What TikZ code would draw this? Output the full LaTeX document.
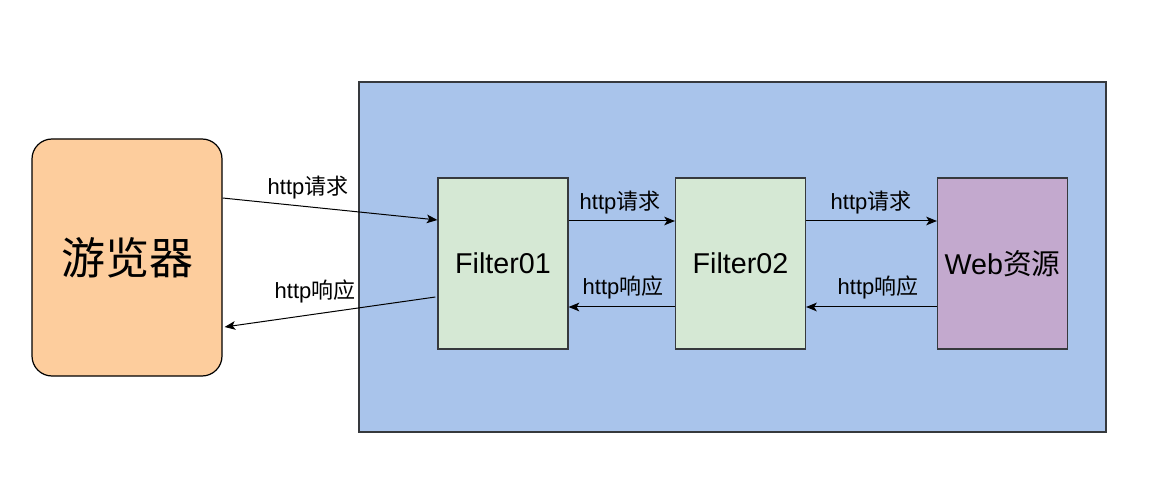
\documentclass[tikz,border=0pt]{standalone}
\usepackage{fontspec}
\setmainfont{Liberation Sans}
\newfontfamily\cjk{Noto Sans CJK SC}
\usetikzlibrary{arrows.meta}

\definecolor{browserfill}{HTML}{FDCD9D}
\definecolor{serverfill}{HTML}{A9C4EB}
\definecolor{filterfill}{HTML}{D5E8D4}
\definecolor{webfill}{HTML}{C3A9CE}
\definecolor{boxline}{HTML}{36393D}

\tikzset{
  box/.style={draw=boxline, line width=0.9pt, inner sep=0pt,
    minimum width=97.5pt, minimum height=128.25pt,
    font=\fontsize{21.5}{24}\selectfont},
  flow/.style={draw=black, line width=0.75pt,
    -{Stealth[length=8pt, width=6.5pt, inset=2pt]}},
  lbl/.style={font=\fontsize{16.5}{19}\selectfont, inner sep=0pt}
}

\begin{document}
\begin{tikzpicture}[x=0.75pt, y=-0.75pt]
    \useasboundingbox (0,0) rectangle (1171,495);
    % container and boxes
    \node[draw=boxline, line width=0.9pt, fill=serverfill,
      minimum width=560.25pt, minimum height=262.5pt] (server) at (732.5,257) {};
    \node[draw=black, line width=0.9pt, fill=browserfill, rounded corners=15pt,
      minimum width=142.5pt, minimum height=177.75pt,
      font=\fontsize{33}{36}\selectfont] (browser) at (127,257.5) {\cjk 游览器};
    \node[box, fill=filterfill] (f1) at (503,263.5) {Filter01};
    \node[box, fill=filterfill] (f2) at (740.5,263.5) {Filter02};
    \node[box, fill=webfill] (web) at (1002.5,263.5) {Web{\cjk 资源}};
    % requests
    \draw[flow] (browser.east |- 0,198) -- (f1.west |- 0,220);
    \draw[flow] (f1.east |- 0,221) -- (f2.west |- 0,221);
    \draw[flow] (f2.east |- 0,221) -- (web.west |- 0,221);
    % responses
    \draw[flow] (web.west |- 0,307) -- (f2.east |- 0,307);
    \draw[flow] (f2.west |- 0,307) -- (f1.east |- 0,307);
    \draw[flow] ([xshift=-1.5pt]f1.west |- 0,297) -- ([xshift=1.5pt]browser.east |- 0,327);
    % labels
    \node[lbl] (req1) at (308,188) {http{\cjk 请求}};
    \node[lbl] (req2) at (620,203) {http{\cjk 请求}};
    \node[lbl] (req3) at (871,203) {http{\cjk 请求}};
    \node[lbl] (res1) at (315,291) {http{\cjk 响应}};
    \node[lbl] (res2) at (623,287) {http{\cjk 响应}};
    \node[lbl] (res3) at (878,287) {http{\cjk 响应}};
\end{tikzpicture}
\end{document}
